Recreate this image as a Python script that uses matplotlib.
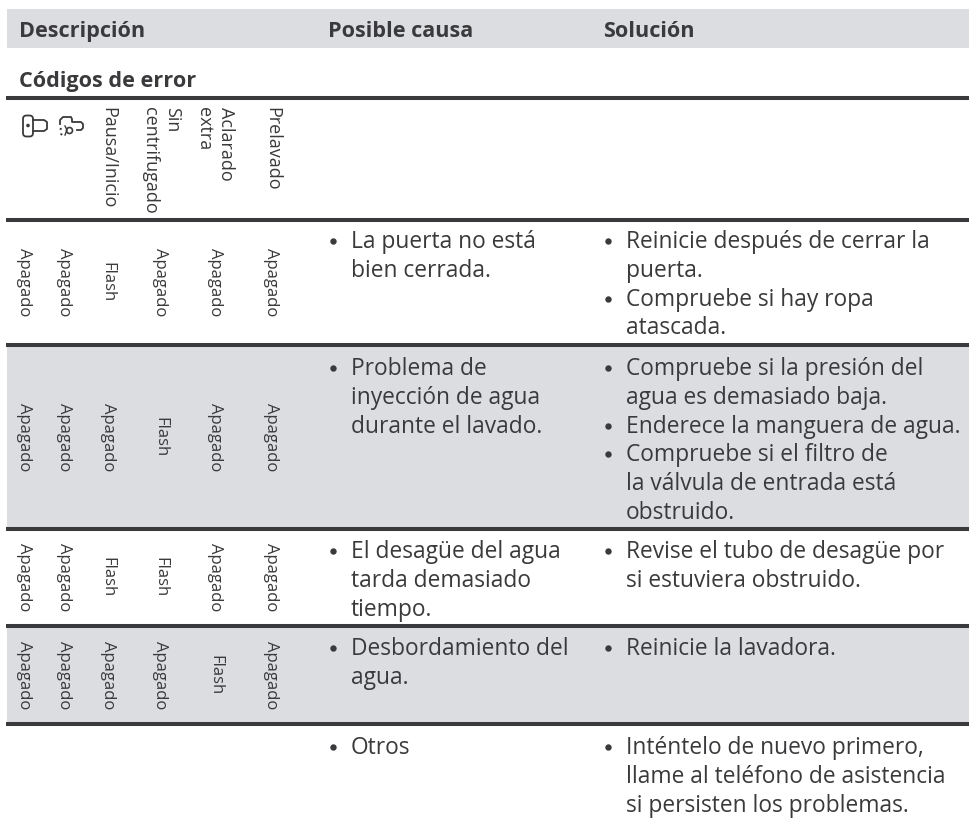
import matplotlib
matplotlib.use('Agg')
import matplotlib.pyplot as plt
from matplotlib.patches import Rectangle, FancyBboxPatch, Circle

W = 970
H = 819
BAND = '#dcdde0'
INK = '#3a3a3c'
FONT = 'Open Sans'

# table headers
headers = ['Descripción', 'Posible causa', 'Solución']
subtitle = 'Códigos de error'
indicators = ['Pausa/Inicio', 'centrifugado', 'Sin', 'extra', 'Aclarado', 'Prelavado']

# led state of the six indicators, one list for each error row
row1 = ['Apagado', 'Apagado', 'Flash', 'Apagado', 'Apagado', 'Apagado']
row2 = ['Apagado', 'Apagado', 'Apagado', 'Flash', 'Apagado', 'Apagado']
row3 = ['Apagado', 'Apagado', 'Flash', 'Flash', 'Apagado', 'Apagado']
row4 = ['Apagado', 'Apagado', 'Apagado', 'Apagado', 'Flash', 'Apagado']
states = [row1, row2, row3, row4]

# causes and fixes, as (bullet?, line of text)
causes = [
    [(1, 'La puerta no está'), (0, 'bien cerrada.')],
    [(1, 'Problema de'), (0, 'inyección de agua'), (0, 'durante el lavado.')],
    [(1, 'El desagüe del agua'), (0, 'tarda demasiado'), (0, 'tiempo.')],
    [(1, 'Desbordamiento del'), (0, 'agua.')],
    [(1, 'Otros')],
]
fixes = [
    [(1, 'Reinicie después de cerrar la'), (0, 'puerta.'), (1, 'Compruebe si hay ropa'), (0, 'atascada.')],
    [(1, 'Compruebe si la presión del'), (0, 'agua es demasiado baja.'), (1, 'Enderece la manguera de agua.'),
     (1, 'Compruebe si el filtro de'), (0, 'la válvula de entrada está'), (0, 'obstruido.')],
    [(1, 'Revise el tubo de desagüe por'), (0, 'si estuviera obstruido.')],
    [(1, 'Reinicie la lavadora.')],
    [(1, 'Inténtelo de nuevo primero,'), (0, 'llame al teléfono de asistencia'), (0, 'si persisten los problemas.')],
]

# layout in image pixels
rules = [98, 220, 345, 529, 626, 724]
gray_rows = [(345, 529), (626, 724)]
first_base = [248, 375, 558, 655, 754]
state_x = [20, 60.5, 103.5, 156, 211, 267]
indicator_x = [103.5, 145, 166.7, 199, 220.7, 267]
line_step = 28.8

fig = plt.figure(figsize=(W/100, H/100), dpi=100)
ax = fig.add_axes([0, 0, 1, 1])
ax.set_xlim(0, W)
ax.set_ylim(H, 0)
ax.axis('off')

ax.add_patch(Rectangle((7, 9), W-7, 39, color=BAND, lw=0))
for top, bottom in gray_rows:
    ax.add_patch(Rectangle((7, top), W-7, bottom-top, color=BAND, lw=0))
for y in rules:
    ax.plot([6, W], [y, y], color=INK, lw=2.9, solid_capstyle='butt')

for x, label in zip([19, 328, 603], headers):
    ax.text(x, 37, label, family=FONT, weight='bold', fontsize=15.6, color=INK, va='baseline')
ax.text(19, 87, subtitle, family=FONT, weight='bold', fontsize=15.6, color=INK, va='baseline')

# door lock icon
ax.add_patch(FancyBboxPatch((23, 115.5), 10, 21, boxstyle='round,pad=0,rounding_size=3.5', fc='none', ec=INK, lw=1.3))
ax.plot([33, 44, 47, 47, 44, 33], [120, 120, 122, 129, 131, 131], color=INK, lw=1.3)
ax.add_patch(Circle((28, 125.5), 1.1, color=INK))

# child lock icon
ax.plot([60, 60, 63, 71, 72, 72, 81, 83, 83, 81, 77],
        [124, 120, 117, 117, 119, 122, 122, 124, 128, 130, 130], color=INK, lw=1.3)
ax.plot([61, 60, 61, 64], [128, 131, 134, 136], color=INK, lw=1.4, ls=(0, (1, 2)))
ax.add_patch(Circle((69.5, 130.5), 3, fc='none', ec=INK, lw=1.2))
ax.plot([65, 67, 65], [126, 130, 135], color=INK, lw=1.0)

for x, label in zip(indicator_x, indicators):
    ax.text(x, 107, label, family=FONT, fontsize=13, color=INK, rotation=-90, ha='left', va='baseline',
            rotation_mode='anchor')

for row, (top, bottom) in zip(states, zip(rules[1:], rules[2:])):
    mid = (top + bottom) / 2
    for x, s in zip(state_x, row):
        ax.text(x, mid, s, family=FONT, fontsize=12, color=INK, rotation=-90, ha='center', va='baseline',
                rotation_mode='anchor')

for lines, base, tx, bx in [(c, b, 351, 333) for c, b in zip(causes, first_base)] + \
                           [(f, b, 626, 608) for f, b in zip(fixes, first_base)]:
    for i, (bullet, txt) in enumerate(lines):
        y = base + i*line_step
        ax.text(tx, y, txt, family=FONT, fontsize=16.4, color=INK, va='baseline')
        if bullet:
            ax.plot([bx], [y-7], 'o', ms=4.6, color=INK, mew=0)

fig.savefig('out.png', dpi=100)
